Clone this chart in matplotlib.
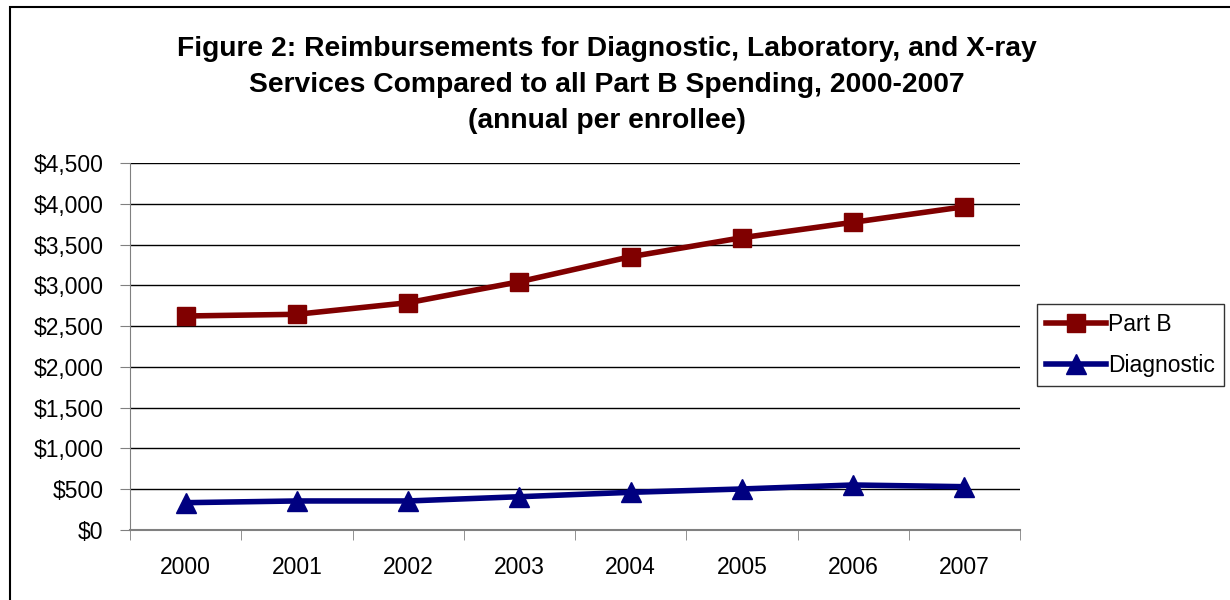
import matplotlib
matplotlib.use("Agg")
import matplotlib.pyplot as plt
from matplotlib.patches import Rectangle
from matplotlib.ticker import FuncFormatter

plt.rcParams['font.family'] = ['Liberation Sans', 'DejaVu Sans']

# Data
years = ['2000', '2001', '2002', '2003', '2004', '2005', '2006', '2007']
part_b = [2624, 2645, 2787, 3044, 3351, 3584, 3773, 3964]
diagnostic = [335, 356, 356, 408, 462, 503, 552, 531]

fig = plt.figure(figsize=(12.3, 6), dpi=100)
ax = fig.add_axes([130/1230, 1 - 530/600, 890/1230, 367/600])

x = range(len(years))
ax.plot(x, part_b, '-', color='#800000', lw=4, marker='s', ms=13, label='Part B')
ax.plot(x, diagnostic, '-', color='#000080', lw=4, marker='^', ms=14, label='Diagnostic')

ax.set_xlim(-0.5, len(years) - 0.5)
ax.set_ylim(0, 4500)
ax.set_yticks(range(0, 4501, 500))
ax.yaxis.set_major_formatter(FuncFormatter(lambda v, p: '${:,.0f}'.format(v)))
ax.set_xticks(list(x))
ax.set_xticklabels(years)
ax.set_xticks([i - 0.5 for i in range(len(years) + 1)], minor=True)
ax.tick_params(axis='x', which='major', length=0, pad=19, labelsize=16.5)
ax.tick_params(axis='x', which='minor', length=7, color='#808080', direction='out')
ax.tick_params(axis='y', length=7, color='#808080', direction='out', pad=12, labelsize=16.5)

ax.grid(True, axis='y', color='black', lw=1)
ax.set_axisbelow(True)
for s in ['top', 'right']:
    ax.spines[s].set_visible(False)
ax.spines['left'].set_color('#808080')
ax.spines['bottom'].set_color('#808080')
ax.spines['bottom'].set_linewidth(1.5)

fig.text(607/1230, 1 - 85/600,
         'Figure 2: Reimbursements for Diagnostic, Laboratory, and X-ray\n'
         'Services Compared to all Part B Spending, 2000-2007\n'
         '(annual per enrollee)',
         ha='center', va='center', fontsize=20.3, fontweight='bold', linespacing=1.5)

leg = ax.legend(loc='center left', bbox_to_anchor=((1037 - 130)/890, (530 - 345)/367),
                frameon=True, fancybox=False, edgecolor='black', fontsize=16.5,
                handlelength=2.6, handletextpad=0.1, borderpad=0.4, labelspacing=0.75,
                borderaxespad=0)
leg.get_frame().set_linewidth(1)

fig.patches.append(Rectangle((10/1230, -0.05), 1.1, 1 - 7/600 + 0.05, transform=fig.transFigure,
                             fill=False, edgecolor='black', lw=1.5))

plt.savefig('out.png', dpi=100)
